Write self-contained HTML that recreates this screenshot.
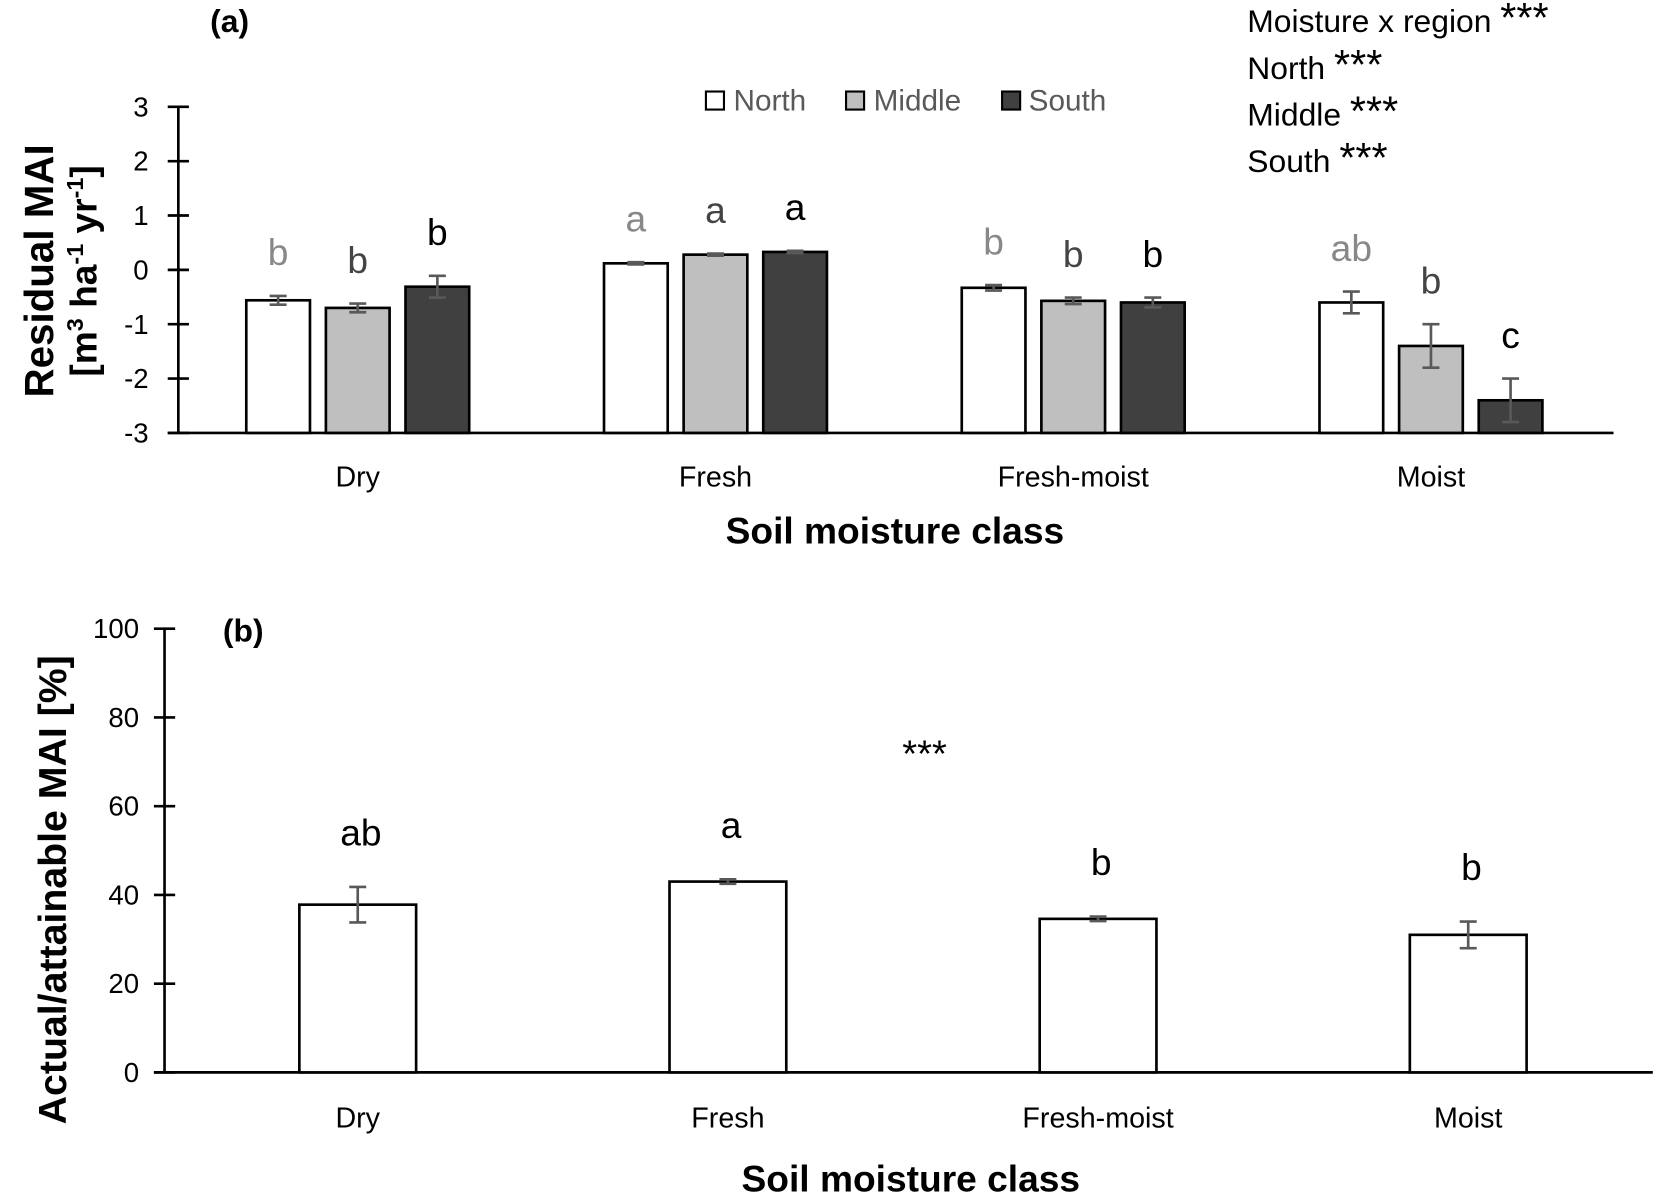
<!DOCTYPE html>
<html><head><meta charset="utf-8"><style>
html,body{margin:0;padding:0;background:#fff}
svg{display:block;font-family:"Liberation Sans",sans-serif}
.ast{font-size:1.3em}
</style></head><body>
<svg id="fig" width="1656" height="1200" viewBox="0 0 1560 1130" xmlns="http://www.w3.org/2000/svg">
<text x="198" y="30" font-size="30" font-weight="bold">(a)</text>
<g font-size="30" fill="#000">
<text x="1175" y="30">Moisture x region <tspan class="ast">***</tspan></text>
<text x="1175" y="74">North <tspan class="ast">***</tspan></text>
<text x="1175" y="118">Middle <tspan class="ast">***</tspan></text>
<text x="1175" y="162">South <tspan class="ast">***</tspan></text>
</g>
<g font-size="28" fill="#595959">
<g><rect x="665" y="86" width="17" height="17" fill="#fff" stroke="#000" stroke-width="2"/><text x="691" y="104">North</text></g>
<g><rect x="797" y="86" width="17" height="17" fill="#bfbfbf" stroke="#000" stroke-width="2"/><text x="823" y="104">Middle</text></g>
<g><rect x="944" y="86" width="17" height="17" fill="#404040" stroke="#000" stroke-width="2"/><text x="969" y="104">South</text></g>
</g>
<g transform="translate(37,255) rotate(-90)" font-weight="bold" text-anchor="middle">
<text x="0" y="13" font-size="38">Residual MAI</text>
<text x="0" y="54" font-size="35">[m<tspan dy="-13" font-size="22">3</tspan><tspan dy="13"> ha</tspan><tspan dy="-13" font-size="22">-1</tspan><tspan dy="13"> yr</tspan><tspan dy="-13" font-size="22">-1</tspan><tspan dy="13">]</tspan></text>
</g>
<text x="843" y="512" font-size="35" font-weight="bold" text-anchor="middle">Soil moisture class</text>
<text x="210" y="604" font-size="30" font-weight="bold">(b)</text>
<text x="871" y="722" font-size="36" text-anchor="middle">***</text>
<text transform="translate(62,838) rotate(-90)" font-size="37" font-weight="bold" text-anchor="middle">Actual/attainable MAI [%]</text>
<text x="858" y="1122" font-size="35" font-weight="bold" text-anchor="middle">Soil moisture class</text>
<g id="ga"></g><g id="gb"></g>
</svg>
<script>
const categories=["Dry","Fresh","Fresh-moist","Moist"];
const seriesNames=["North","Middle","South"];
const northVals=[-0.56,0.12,-0.33,-0.6];
const middleVals=[-0.7,0.28,-0.57,-1.4];
const southVals=[-0.31,0.33,-0.6,-2.4];
const northErr=[0.08,0.02,0.05,0.2];
const middleErr=[0.08,0.02,0.06,0.4];
const southErr=[0.2,0.02,0.09,0.4];
const northLetters=["b","a","b","ab"];
const middleLetters=["b","a","b","b"];
const southLetters=["b","a","b","c"];
const ticksA=[-3,-2,-1,0,1,2,3];
const ratioVals=[37.8,43,34.6,31];
const ratioErr=[4,0.5,0.5,3];
const ratioLetters=["ab","a","b","b"];
const ticksB=[0,20,40,60,80,100];
const NS="http://www.w3.org/2000/svg";
function mk(p,t,a){const e=document.createElementNS(NS,t);for(const k in a)e.setAttribute(k,a[k]);p.appendChild(e);return e;}
const ga=document.getElementById('ga');
const yA=v=>254-v*51.2;
const xA=i=>337+i*337;
mk(ga,'line',{x1:168,y1:yA(3),x2:168,y2:yA(-3),stroke:'#000','stroke-width':2.5});
mk(ga,'line',{x1:158,y1:yA(-3),x2:1520,y2:yA(-3),stroke:'#000','stroke-width':2.5});
ticksA.forEach(t=>{
 const l=mk(ga,'line',{x1:158,y1:yA(t),x2:178,y2:yA(t),stroke:'#000','stroke-width':2.5});
 
 
 const tx=mk(ga,'text',{x:140,y:yA(t)+9,'font-size':26,'text-anchor':'end'});tx.textContent=t;
 
 
});
const vals=[northVals,middleVals,southVals],errs=[northErr,middleErr,southErr],lets=[northLetters,middleLetters,southLetters];
const fills=['#fff','#bfbfbf','#404040'],lcol=['#888','#444','#000'];
categories.forEach((c,i)=>{
 const t=mk(ga,'text',{x:xA(i),y:458,'font-size':27,'text-anchor':'middle'});t.textContent=c;
 
 
 for(let s=0;s<3;s++){
  const cx=xA(i)+(s-1)*75,v=vals[s][i],e=errs[s][i];
  const r=mk(ga,'rect',{x:cx-30,y:yA(v),width:60,height:yA(-3)-yA(v),fill:fills[s],stroke:'#000','stroke-width':2.5});
  
  
  const g=mk(ga,'g',{stroke:'#595959','stroke-width':2.5});
  
  
  mk(g,'line',{x1:cx,y1:yA(v+e),x2:cx,y2:yA(v-e)});
  mk(g,'line',{x1:cx-8,y1:yA(v+e),x2:cx+8,y2:yA(v+e)});
  mk(g,'line',{x1:cx-8,y1:yA(v-e),x2:cx+8,y2:yA(v-e)});
  const top=Math.max(v+e,v);
  const lt=mk(ga,'text',{x:cx,y:yA(top)-29,'font-size':35,'text-anchor':'middle',fill:lcol[s]});lt.textContent=lets[s][i];
  
  
 }
});
const gb=document.getElementById('gb');
const yB=v=>1010-v*4.18;
const xB=i=>337+i*348.7;
mk(gb,'line',{x1:155,y1:yB(100),x2:155,y2:yB(0),stroke:'#000','stroke-width':2.5});
mk(gb,'line',{x1:145,y1:yB(0),x2:1557,y2:yB(0),stroke:'#000','stroke-width':2.5});
ticksB.forEach(t=>{
 const l=mk(gb,'line',{x1:145,y1:yB(t),x2:165,y2:yB(t),stroke:'#000','stroke-width':2.5});
 
 
 const tx=mk(gb,'text',{x:131,y:yB(t)+9,'font-size':26,'text-anchor':'end'});tx.textContent=t;
 
 
});
categories.forEach((c,i)=>{
 const cx=xB(i),v=ratioVals[i],e=ratioErr[i];
 const t=mk(gb,'text',{x:cx,y:1062,'font-size':27,'text-anchor':'middle'});t.textContent=c;
 
 
 const r=mk(gb,'rect',{x:cx-55,y:yB(v),width:110,height:yB(0)-yB(v),fill:'#fff',stroke:'#000','stroke-width':2.5});
 
 
 const g=mk(gb,'g',{stroke:'#595959','stroke-width':2.5});
 
 
 mk(g,'line',{x1:cx,y1:yB(v+e),x2:cx,y2:yB(v-e)});
 mk(g,'line',{x1:cx-8,y1:yB(v+e),x2:cx+8,y2:yB(v+e)});
 mk(g,'line',{x1:cx-8,y1:yB(v-e),x2:cx+8,y2:yB(v-e)});
 const lt=mk(gb,'text',{x:cx+3,y:yB(v+e)-39,'font-size':35,'text-anchor':'middle'});lt.textContent=ratioLetters[i];
 
 
});
</script>
</body></html>
